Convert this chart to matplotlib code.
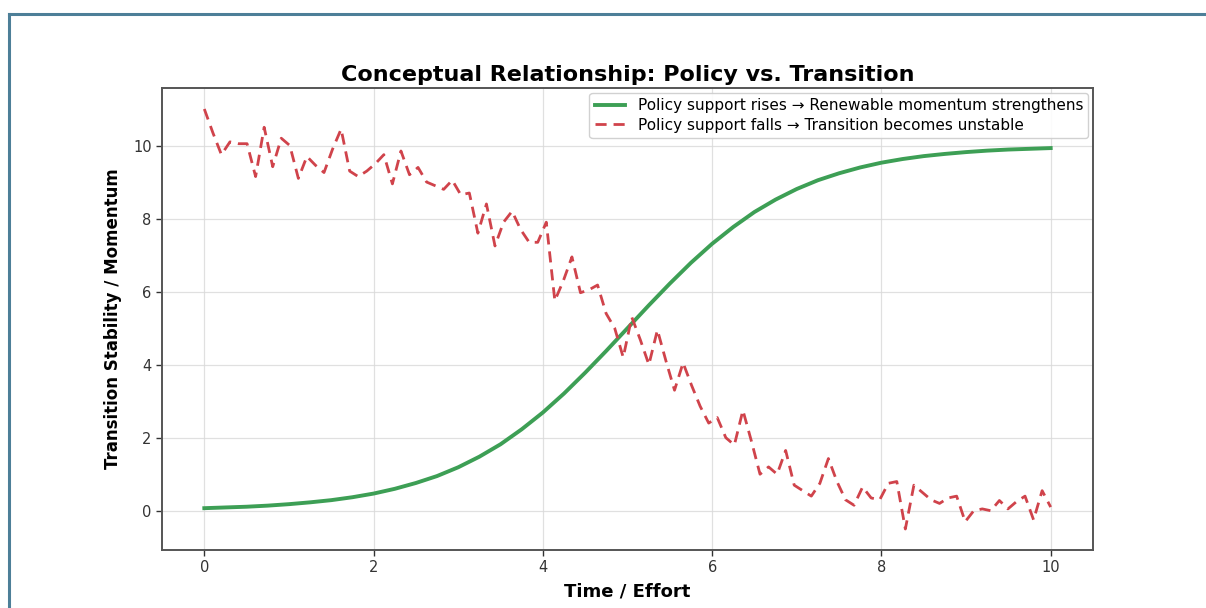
import numpy as np
import matplotlib
matplotlib.use("Agg")
import matplotlib.pyplot as plt
from matplotlib.lines import Line2D

# ---------------- data ----------------
x_green = [0.0, 0.25, 0.5, 0.75, 1.0, 1.25, 1.5, 1.75, 2.0, 2.25, 2.5, 2.75,
           3.0, 3.25, 3.5, 3.75, 4.0, 4.25, 4.5, 4.75, 5.0, 5.25, 5.5, 5.75,
           6.0, 6.25, 6.5, 6.75, 7.0, 7.25, 7.5, 7.75, 8.0, 8.25, 8.5, 8.75,
           9.0, 9.25, 9.5, 9.75, 10.0]
policy_rises = [0.07, 0.09, 0.11, 0.14, 0.18, 0.23, 0.29, 0.37, 0.47, 0.60,
                0.76, 0.95, 1.19, 1.48, 1.82, 2.23, 2.69, 3.21, 3.78, 4.38,
                5.00, 5.62, 6.22, 6.79, 7.31, 7.77, 8.18, 8.52, 8.81, 9.05,
                9.24, 9.40, 9.53, 9.63, 9.71, 9.77, 9.82, 9.86, 9.89, 9.91, 9.93]

x_red = list(np.linspace(0, 10, 100))
policy_falls = [11.0, 10.35, 9.75, 10.1, 10.05, 10.05, 9.15, 10.5, 9.42, 10.2,
                10.0, 9.1, 9.7, 9.46, 9.26, 9.9, 10.45, 9.3, 9.15, 9.3,
                9.5, 9.75, 8.95, 9.85, 9.2, 9.4, 9.0, 8.9, 8.8, 9.05,
                8.65, 8.7, 7.6, 8.4, 7.25, 7.9, 8.2, 7.7, 7.35, 7.35,
                7.9, 5.75, 6.3, 6.95, 5.97, 6.05, 6.18, 5.4, 5.0, 4.2,
                5.3, 4.68, 4.0, 4.95, 4.1, 3.3, 4.05, 3.43, 2.86, 2.4,
                2.55, 2.0, 1.8, 2.75, 1.9, 1.0, 1.2, 1.0, 1.65, 0.7,
                0.55, 0.4, 0.75, 1.43, 0.8, 0.3, 0.15, 0.65, 0.35, 0.3,
                0.75, 0.8, -0.5, 0.7, 0.5, 0.3, 0.2, 0.35, 0.4, -0.3,
                0.0, 0.05, 0.0, 0.28, 0.05, 0.25, 0.4, -0.25, 0.55, 0.1]

x_ticks = [0, 2, 4, 6, 8, 10]
y_ticks = [0, 2, 4, 6, 8, 10]

title = "Conceptual Relationship: Policy vs. Transition"
xlabel = "Time / Effort"
ylabel = "Transition Stability / Momentum"
label_rise = "Policy support rises \u2192 Renewable momentum strengthens"
label_fall = "Policy support falls \u2192 Transition becomes unstable"

# ---------------- figure ----------------
fig = plt.figure(figsize=(12.06, 6.08), dpi=100)
fig.patch.set_facecolor("white")

# outer frame (top and left edges visible)
W, H = 1206, 608
frame_color = "#4d7f98"
fig.add_artist(Line2D([9 / W, 1.0], [1 - 14 / H, 1 - 14 / H], transform=fig.transFigure,
                      color=frame_color, lw=2.2))
fig.add_artist(Line2D([9 / W, 9 / W], [0, 1 - 14 / H], transform=fig.transFigure,
                      color=frame_color, lw=2.2))

ax = fig.add_axes([162 / W, 1 - 550 / H, (1093 - 162) / W, (550 - 88) / H])

ax.plot(x_green, policy_rises, color="#3d9f55", lw=2.8, label=label_rise, zorder=3)
ax.plot(x_red, policy_falls, color="#d0434b", lw=2.0, ls=(0, (4, 2.5)),
        label=label_fall, zorder=3)

ax.set_xticks(x_ticks)
ax.set_yticks(y_ticks)
ax.grid(True, color="#d9d9d9", lw=0.9, alpha=0.8)
ax.set_axisbelow(True)
for s in ax.spines.values():
    s.set_color("#555555")
    s.set_linewidth(1.4)
ax.tick_params(colors="#333333", labelsize=10.5, length=4, width=1.0)

ax.set_title(title, fontsize=16, fontweight="bold", pad=5)
ax.set_xlabel(xlabel, fontsize=13, fontweight="bold", labelpad=5)
ax.set_ylabel(ylabel, fontsize=12, fontweight="bold", labelpad=8)

leg = ax.legend(loc="upper right", fontsize=11, framealpha=0.9,
                edgecolor="#cccccc", handlelength=2.0, borderaxespad=0.3,
                borderpad=0.35, labelspacing=0.3)

fig.savefig("out.png", dpi=100)
